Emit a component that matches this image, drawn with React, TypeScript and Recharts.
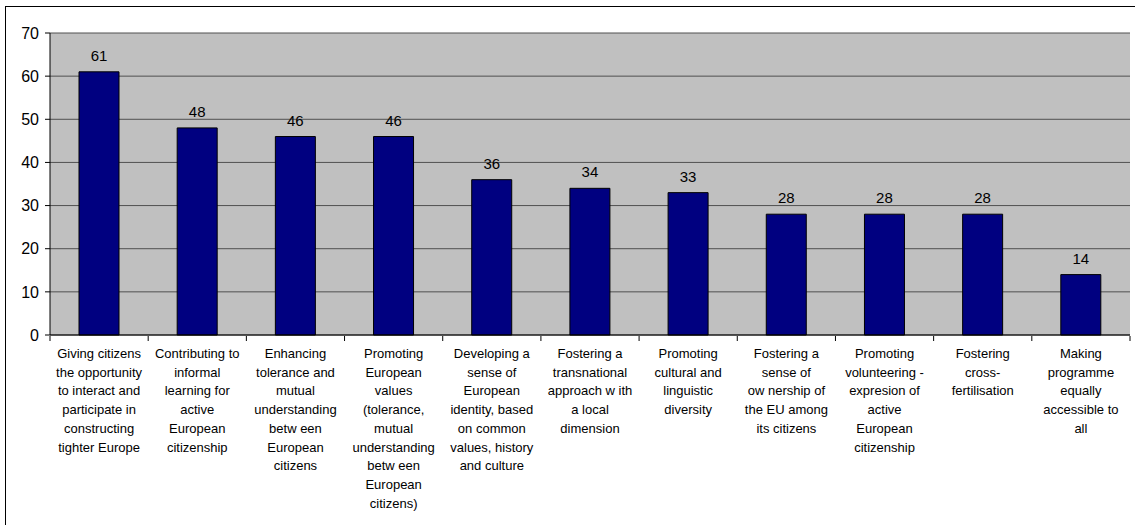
import { BarChart, Bar, XAxis, YAxis, CartesianGrid, LabelList } from "recharts";

const categories = [
  "Giving citizens\nthe opportunity\nto interact and\nparticipate in\nconstructing\ntighter Europe",
  "Contributing to\ninformal\nlearning for\nactive\nEuropean\ncitizenship",
  "Enhancing\ntolerance and\nmutual\nunderstanding\nbetw een\nEuropean\ncitizens",
  "Promoting\nEuropean\nvalues\n(tolerance,\nmutual\nunderstanding\nbetw een\nEuropean\ncitizens)",
  "Developing a\nsense of\nEuropean\nidentity, based\non common\nvalues, history\nand culture",
  "Fostering a\ntransnational\napproach w ith\na local\ndimension",
  "Promoting\ncultural and\nlinguistic\ndiversity",
  "Fostering a\nsense of\now nership of\nthe EU among\nits citizens",
  "Promoting\nvolunteering -\nexpresion of\nactive\nEuropean\ncitizenship",
  "Fostering\ncross-\nfertilisation",
  "Making\nprogramme\nequally\naccessible to\nall",
];

const values = [61, 48, 46, 46, 36, 34, 33, 28, 28, 28, 14];

const yTicks = [0, 10, 20, 30, 40, 50, 60, 70];

const data = categories.map((name, i) => ({ name, value: values[i] }));

const FONT = "'Liberation Sans', Arial, sans-serif";

function CategoryTick(props: any) {
  const { x, y, payload, index } = props;
  const band = 1080 / categories.length;
  const lines = String(payload.value).split("\n");
  const axisY = y - 7;
  return (
    <g>
      <line x1={x - band / 2} x2={x - band / 2} y1={axisY} y2={axisY + 5} stroke="#000" />
      {index === categories.length - 1 && (
        <line x1={x + band / 2} x2={x + band / 2} y1={axisY} y2={axisY + 5} stroke="#000" />
      )}
      <text textAnchor="middle" fontFamily={FONT} fontSize={13} fill="#000">
        {lines.map((l, i) => (
          <tspan key={i} x={x} y={axisY + 22 + i * 18.7}>
            {l}
          </tspan>
        ))}
      </text>
    </g>
  );
}

export default function App() {
  return (
    <div style={{ position: "absolute", left: 0, top: 0, width: 1135, height: 525, background: "#fff", overflow: "hidden" }}>
      <div
        style={{
          position: "absolute",
          left: 5,
          top: 6,
          width: 1140,
          height: 530,
          border: "1px solid #000",
        }}
      />
      <div style={{ position: "absolute", left: 0, top: 0 }}>
        <BarChart
          width={1135}
          height={525}
          data={data}
          margin={{ top: 33, right: 5, left: 0, bottom: 0 }}
          barSize={40}
        >
          <CartesianGrid yAxisId="left" vertical={false} fill="#C0C0C0" fillOpacity={1} stroke="#505050" strokeOpacity={1} />
          <XAxis
            dataKey="name"
            interval={0}
            tickLine={false}
            axisLine={{ stroke: "#000" }}
            tick={<CategoryTick />}
            height={190}
          />
          <YAxis
            yAxisId="left"
            domain={[0, 70]}
            ticks={yTicks}
            width={50}
            tickSize={5}
            tickMargin={6}
            axisLine={{ stroke: "#000" }}
            tickLine={{ stroke: "#000" }}
            tick={{ fill: "#000", fontSize: 16, fontFamily: FONT }}
          />
          <YAxis
            yAxisId="right"
            orientation="right"
            domain={[0, 70]}
            width={0}
            tick={false}
            tickLine={false}
            axisLine={{ stroke: "#808080" }}
          />
          <Bar yAxisId="left" dataKey="value" fill="#000080" stroke="#000" strokeWidth={1} isAnimationActive={false}>
            <LabelList dataKey="value" position="top" offset={11} fill="#000" fontSize={15} fontFamily={FONT} />
          </Bar>
        </BarChart>
      </div>
    </div>
  );
}
